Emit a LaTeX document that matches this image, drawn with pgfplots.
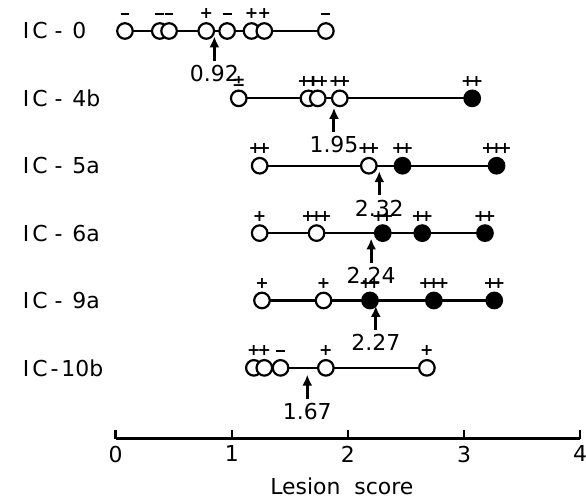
\documentclass[border=0pt]{standalone}
\usepackage{fontspec}
\setmainfont{DejaVu Sans}
\usepackage{pgfplots}
\pgfplotsset{compat=1.18}
\usetikzlibrary{arrows.meta}

% sign symbols above the circles
\newcommand{\pp}{+\kern-0.3em+}
\newcommand{\ppp}{+\kern-0.3em+\kern-0.3em+}
\newcommand{\mi}{\rule[0.22em]{0.55em}{0.14em}}
\newcommand{\ic}[1]{I\kern1.5pt C\hspace{3.5pt}-\hspace{5pt}#1}

\begin{document}
\begin{tikzpicture}
\begin{axis}[
  scale only axis, width=233pt, height=220pt,
  xmin=0, xmax=4, ymin=-0.05, ymax=6.46,
  axis x line=bottom, axis y line=none,
  axis line style={-, line width=1.5pt},
  xtick={0,1,2,3,4}, tick align=inside, major tick length=4.5pt,
  tick style={line width=1.2pt, black},
  xticklabel style={font=\fontsize{11}{13}\selectfont, inner sep=3.5pt},
  /pgf/number format/assume math mode=true,
  xlabel={Lesion\ \ score},
  xlabel style={font=\fontsize{11}{13}\selectfont, at={(axis description cs:0.487,0)}, anchor=center, yshift=-24pt},
  clip=false,
  signs/.style={nodes near coords, point meta=explicit symbolic,
    every node near coord/.style={anchor=south, yshift=4.5pt, inner sep=1pt,
      font=\fontsize{8}{9}\selectfont\bfseries}},
]
% row lines
\addplot[black, line width=1.1pt] coordinates {(0.08,6) (1.81,6)};
\addplot[black, line width=1.1pt] coordinates {(1.06,5) (3.07,5)};
\addplot[black, line width=1.1pt] coordinates {(1.24,4) (3.28,4)};
\addplot[black, line width=1.1pt] coordinates {(1.24,3) (3.18,3)};
\addplot[black, line width=1.1pt] coordinates {(1.26,2) (3.26,2)};
\addplot[black, line width=1.1pt] coordinates {(1.19,1) (2.68,1)};

% open circles
\addplot[only marks, mark=*, mark size=3.9pt,
  mark options={fill=white, draw=black, line width=1.1pt}, signs] coordinates {
  (0.08,6)[\mi] (0.38,6)[\mi] (0.46,6)[\mi] (0.78,6)[+] (0.96,6)[\mi]
  (1.17,6)[+] (1.28,6)[+] (1.81,6)[\mi]
  (1.06,5)[±] (1.66,5)[\pp] (1.74,5)[\pp] (1.93,5)[\pp]
  (1.24,4)[\pp] (2.18,4)[\pp]
  (1.24,3)[+] (1.73,3)[\ppp]
  (1.26,2)[+] (1.79,2)[+]
  (1.19,1)[+] (1.28,1)[+] (1.42,1)[\mi] (1.81,1)[+] (2.68,1)[+]
};
% filled circles
\addplot[only marks, mark=*, mark size=3.9pt,
  mark options={fill=black, draw=black, line width=1.1pt}, signs] coordinates {
  (3.07,5)[\pp]
  (2.47,4)[\pp] (3.28,4)[\ppp]
  (2.30,3)[\pp] (2.64,3)[\pp] (3.18,3)[\pp]
  (2.19,2)[\pp] (2.74,2)[\ppp] (3.26,2)[\pp]
};

% mean arrows
\addplot[quiver={u=0, v=0.36, every arrow/.append style={-{Latex[length=5.5pt,width=5pt]}}},
  line width=1.5pt, black, -{Latex[length=5.5pt,width=5pt]},
  nodes near coords, point meta=explicit symbolic,
  every node near coord/.style={anchor=north, inner sep=1.5pt, font=\fontsize{11}{13}\selectfont}]
  coordinates {
  (0.85,5.56)[0.92] (1.88,4.50)[1.95] (2.27,3.56)[2.32]
  (2.20,2.56)[2.24] (2.24,1.56)[2.27] (1.65,0.54)[1.67]
};

% row labels
\node[anchor=west, font=\fontsize{11}{13}\selectfont] at (axis cs:-0.86,6) {\ic{0}};
\node[anchor=west, font=\fontsize{11}{13}\selectfont] at (axis cs:-0.86,5) {\ic{4b}};
\node[anchor=west, font=\fontsize{11}{13}\selectfont] at (axis cs:-0.86,4) {\ic{5a}};
\node[anchor=west, font=\fontsize{11}{13}\selectfont] at (axis cs:-0.86,3) {\ic{6a}};
\node[anchor=west, font=\fontsize{11}{13}\selectfont] at (axis cs:-0.86,2) {\ic{9a}};
\node[anchor=west, font=\fontsize{11}{13}\selectfont] at (axis cs:-0.86,1) {I\kern1.5pt C\hspace{1.5pt}-\hspace{1.5pt}10b};
\coordinate (bl) at (axis cs:-0.996,-0.94);
\coordinate (tr) at (axis cs:4.05,6.46);
\end{axis}
\pgfresetboundingbox
\path[use as bounding box] (bl) rectangle (tr);
\end{tikzpicture}
\end{document}
